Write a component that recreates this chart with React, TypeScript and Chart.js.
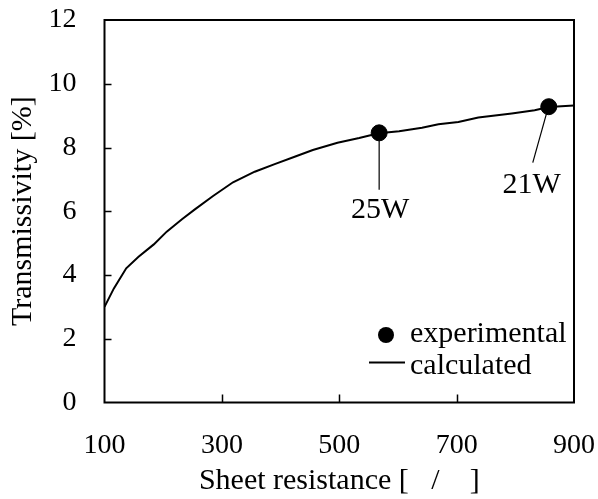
import React, { useEffect, useRef } from 'react';
import { Chart, registerables } from 'chart.js';

Chart.register(...registerables);

// ---- data ----
const calcResistance = [100, 116, 137, 158, 184, 206, 232, 254, 285, 319, 356, 390, 424, 455, 497, 534, 567, 602, 641, 669, 703, 737, 794, 833, 857, 900];
const calcTransmissivity = [3.0, 3.58, 4.21, 4.57, 4.96, 5.36, 5.75, 6.06, 6.48, 6.91, 7.24, 7.48, 7.71, 7.92, 8.15, 8.3, 8.45, 8.51, 8.62, 8.73, 8.8, 8.94, 9.07, 9.17, 9.27, 9.32];
const expResistance = [568, 857];
const expTransmissivity = [8.46, 9.28];
const expLabels = ['25W', '21W'];
const xTicks = [100, 300, 500, 700, 900];
const yTicks = [0, 2, 4, 6, 8, 10, 12];
const legendLabels = ['experimental', 'calculated'];
const xTitle = 'Sheet resistance [   /    ]';
const yTitle = 'Transmissivity [%]';

const FAMILY = '"Liberation Serif", "Times New Roman", serif';

const framePlugin = {
  id: 'frame',
  afterDatasetsDraw(chart: any) {
    const { ctx, chartArea: a, scales } = chart;
    const x = scales.x;
    const y = scales.y;
    ctx.save();
    ctx.strokeStyle = '#000';
    ctx.lineWidth = 2;
    ctx.strokeRect(a.left, a.top, a.right - a.left, a.bottom - a.top);

    // inward tick marks
    ctx.beginPath();
    ctx.lineWidth = 1.5;
    yTicks.slice(1, -1).forEach((v) => {
      const py = Math.round(y.getPixelForValue(v)) + 0.5;
      ctx.moveTo(a.left, py);
      ctx.lineTo(a.left + 7, py);
    });
    xTicks.slice(1, -1).forEach((v) => {
      const px = Math.round(x.getPixelForValue(v)) + 0.5;
      ctx.moveTo(px, a.bottom);
      ctx.lineTo(px, a.bottom - 8);
    });
    ctx.stroke();

    // annotations for experimental points
    ctx.font = `30px ${FAMILY}`;
    ctx.fillStyle = '#000';
    ctx.textAlign = 'center';
    ctx.textBaseline = 'alphabetic';
    ctx.lineWidth = 1.2;
    const p0x = x.getPixelForValue(expResistance[0]);
    const p0y = y.getPixelForValue(expTransmissivity[0]);
    ctx.beginPath();
    ctx.moveTo(p0x, p0y);
    ctx.lineTo(p0x, p0y + 57);
    ctx.stroke();
    ctx.fillText(expLabels[0], p0x + 1, p0y + 85);

    const p1x = x.getPixelForValue(expResistance[1]);
    const p1y = y.getPixelForValue(expTransmissivity[1]);
    ctx.beginPath();
    ctx.moveTo(p1x - 2, p1y + 6);
    ctx.lineTo(p1x - 16, p1y + 56);
    ctx.stroke();
    ctx.fillText(expLabels[1], p1x - 17, p1y + 86);

    // legend
    ctx.textAlign = 'left';
    ctx.beginPath();
    ctx.arc(a.right - 188, a.bottom - 67.5, 8, 0, Math.PI * 2);
    ctx.fill();
    ctx.fillText(legendLabels[0], a.right - 164, a.bottom - 60.5);
    ctx.beginPath();
    ctx.lineWidth = 2;
    ctx.moveTo(a.right - 205, a.bottom - 40);
    ctx.lineTo(a.right - 169, a.bottom - 40);
    ctx.stroke();
    ctx.fillText(legendLabels[1], a.right - 164, a.bottom - 29);
    ctx.restore();
  },
};

export default function App() {
  const canvasRef = useRef<HTMLCanvasElement | null>(null);

  useEffect(() => {
    document.body.style.margin = '0';
    const canvas = canvasRef.current;
    if (!canvas) return;
    const chart = new Chart(canvas, {
      type: 'scatter',
      data: {
        datasets: [
          {
            label: legendLabels[0],
            data: expResistance.map((v, i) => ({ x: v, y: expTransmissivity[i] })),
            backgroundColor: '#000',
            borderColor: '#000',
            pointRadius: 8,
            pointHoverRadius: 8,
            showLine: false,
            order: 0,
          },
          {
            label: legendLabels[1],
            data: calcResistance.map((v, i) => ({ x: v, y: calcTransmissivity[i] })),
            borderColor: '#000',
            backgroundColor: '#000',
            borderWidth: 2,
            pointRadius: 0,
            pointHoverRadius: 0,
            showLine: true,
            tension: 0,
            order: 1,
          },
        ],
      },
      options: {
        animation: false,
        responsive: false,
        maintainAspectRatio: false,
        events: [],
        layout: { padding: { top: 20, right: 24, left: 0, bottom: 0 } },
        plugins: { legend: { display: false }, tooltip: { enabled: false } },
        scales: {
          x: {
            type: 'linear',
            min: 100,
            max: 900,
            afterBuildTicks: (s: any) => {
              s.ticks = xTicks.map((v) => ({ value: v }));
            },
            afterFit: (s: any) => {
              s.height = 96.5;
              s.paddingLeft = 0;
              s.paddingRight = 0;
            },
            grid: { display: false },
            border: { display: false },
            ticks: {
              color: '#000',
              font: { family: FAMILY, size: 28 },
              padding: 18,
              maxRotation: 0,
              autoSkip: false,
            },
            title: {
              display: true,
              text: xTitle,
              color: '#000',
              font: { family: FAMILY, size: 30 },
              padding: { top: 0, bottom: 0 },
            },
          },
          y: {
            type: 'linear',
            min: 0,
            max: 12,
            afterBuildTicks: (s: any) => {
              s.ticks = yTicks.map((v) => ({ value: v }));
            },
            afterFit: (s: any) => {
              s.width = 104.5;
              s.paddingTop = 0;
              s.paddingBottom = 0;
            },
            grid: { display: false },
            border: { display: false },
            ticks: {
              color: '#000',
              font: { family: FAMILY, size: 28 },
              padding: 20,
              autoSkip: false,
            },
            title: {
              display: true,
              text: yTitle,
              color: '#000',
              font: { family: FAMILY, size: 30 },
              padding: { top: 5, bottom: 0 },
            },
          },
        },
      },
      plugins: [framePlugin],
    } as any);
    return () => chart.destroy();
  }, []);

  return (
    <div style={{ position: 'absolute', left: 0, top: 0, width: 598, height: 499, background: '#fff' }}>
      <canvas ref={canvasRef} width={598} height={499} style={{ width: 598, height: 499, display: 'block' }} />
    </div>
  );
}
